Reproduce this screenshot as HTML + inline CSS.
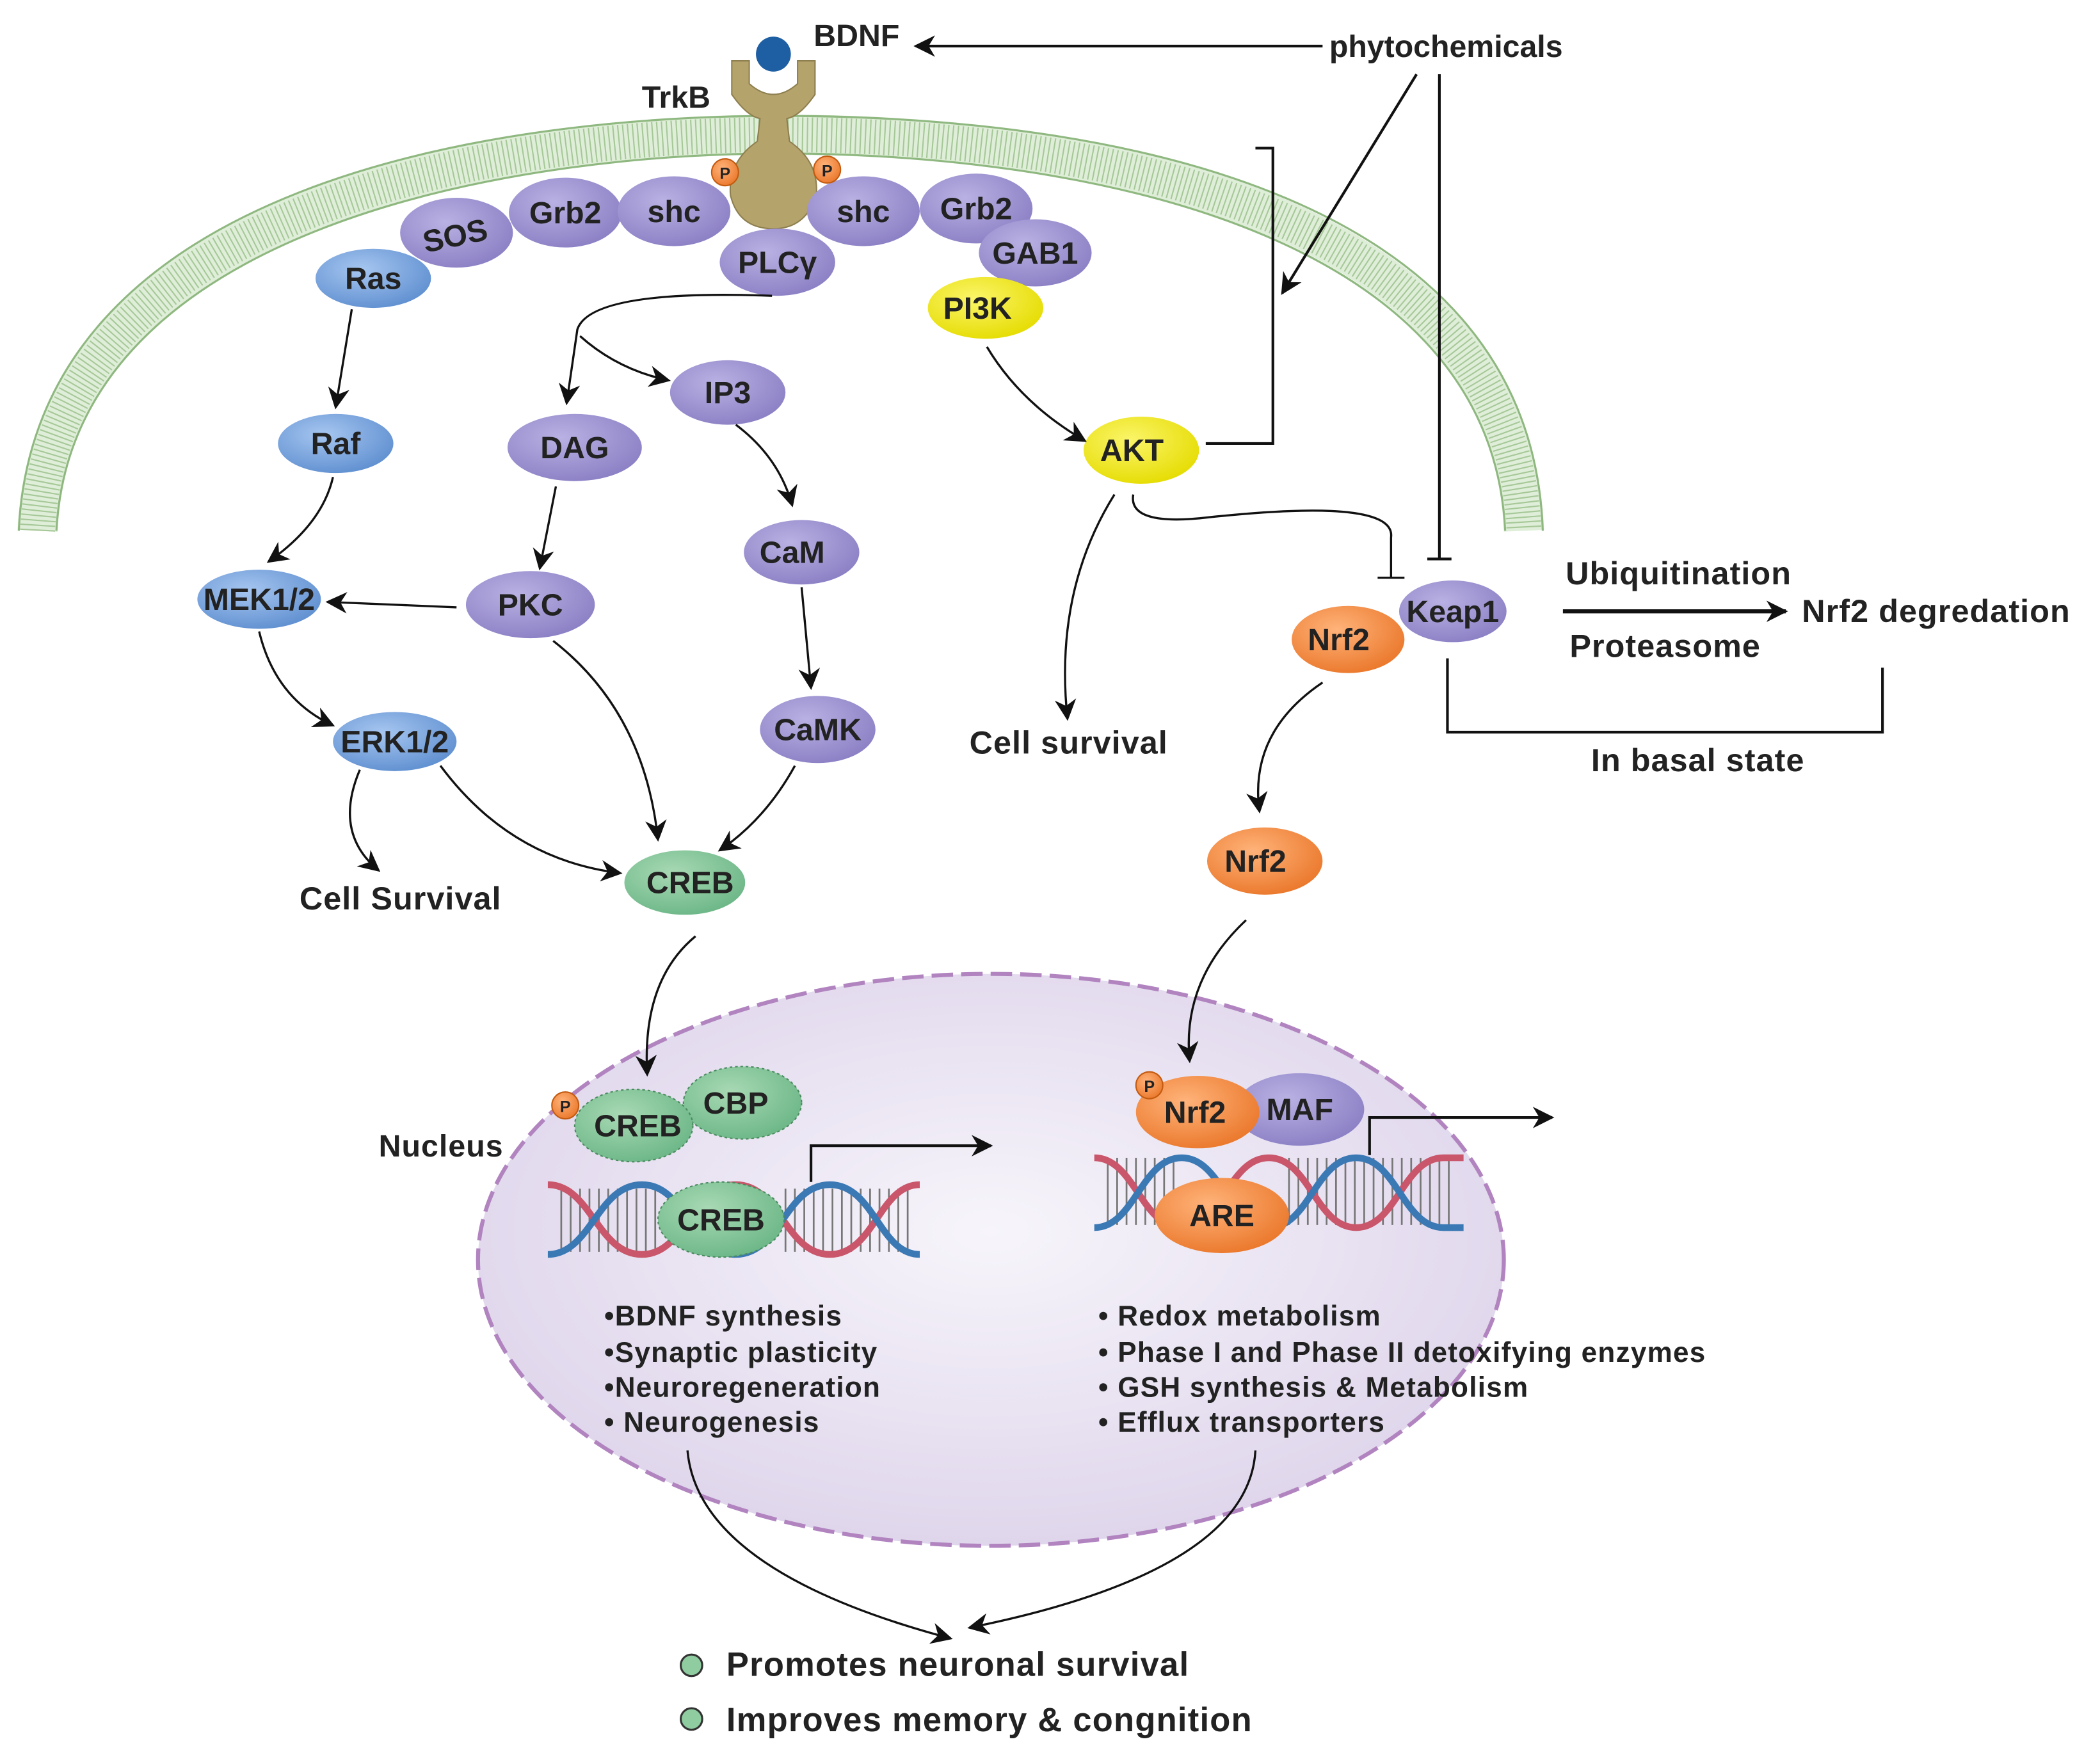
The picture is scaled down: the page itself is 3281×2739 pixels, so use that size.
<!DOCTYPE html>
<html><head><meta charset="utf-8"><style>
html,body{margin:0;padding:0;background:#fff}
svg{display:block}
text{font-family:"Liberation Sans",sans-serif;font-weight:bold;fill:#222}
</style></head><body>
<svg width="3281" height="2739" viewBox="0 0 1564 1305" xmlns="http://www.w3.org/2000/svg">
<defs>
<marker id="A" viewBox="0 0 10 10" refX="9" refY="5" markerWidth="16" markerHeight="16" orient="auto" markerUnits="userSpaceOnUse"><path d="M0,0 L10,5 L0,10 L3,5z" fill="#111"/></marker>
<radialGradient id="pu" cx="40%" cy="35%" r="70%"><stop offset="0" stop-color="#b9b1e3"/><stop offset="1" stop-color="#8b7fc4"/></radialGradient>
<radialGradient id="bl" cx="40%" cy="35%" r="70%"><stop offset="0" stop-color="#a6c6f0"/><stop offset="1" stop-color="#5f8fd0"/></radialGradient>
<radialGradient id="ye" cx="40%" cy="35%" r="70%"><stop offset="0" stop-color="#fbf56a"/><stop offset="1" stop-color="#e5dc00"/></radialGradient>
<radialGradient id="gr" cx="40%" cy="35%" r="70%"><stop offset="0" stop-color="#a8d9b4"/><stop offset="1" stop-color="#6bb686"/></radialGradient>
<radialGradient id="or" cx="40%" cy="35%" r="70%"><stop offset="0" stop-color="#ffb37a"/><stop offset="1" stop-color="#ea772a"/></radialGradient>
<radialGradient id="nu" cx="50%" cy="45%" r="60%"><stop offset="0" stop-color="#f7f5fb"/><stop offset="1" stop-color="#ddd3ea"/></radialGradient>
</defs>

<!-- membrane -->
<path d="M28,395 C40,150 380,100 580,100 C800,100 1125,150 1135,395" fill="none" stroke="#dfeed8" stroke-width="30"/>
<path d="M28,395 C40,150 380,100 580,100 C800,100 1125,150 1135,395" fill="none" stroke="#a6c898" stroke-width="26" stroke-dasharray="1 2.6"/>
<path d="M14,395 C26,135 370,86 580,86 C810,86 1140,135 1149,395" fill="none" stroke="#8fb880" stroke-width="1.5"/>
<path d="M42,395 C54,165 390,114 580,114 C790,114 1110,165 1121,395" fill="none" stroke="#8fb880" stroke-width="1.5"/>

<!-- nucleus -->
<ellipse cx="738" cy="938" rx="382" ry="213" fill="url(#nu)" stroke="#b184c0" stroke-width="3" stroke-dasharray="16 6"/>

<!-- receptor -->
<path d="M545,45 L558,45 L558,62 Q576,78 594,62 L594,45 L607,45 L607,70 Q596,86 586,88 L588,105 Q610,120 608,145 Q600,170 576,170 Q550,170 544,145 Q542,120 564,105 L566,88 Q556,86 545,70z" fill="#b5a36c" stroke="#8e7f4f" stroke-width="1"/>
<circle cx="576" cy="40" r="13" fill="#1e5ea3"/>
<text x="606" y="34" font-size="23">BDNF</text>
<text x="478" y="80" font-size="23">TrkB</text>

<!-- nodes -->
<g font-size="23" text-anchor="middle">
<ellipse cx="340" cy="173" rx="42" ry="26" fill="url(#pu)"/><text x="340" y="183" transform="rotate(-12 340 180)">SOS</text>
<ellipse cx="421" cy="158" rx="42" ry="26" fill="url(#pu)"/><text x="421" y="166">Grb2</text>
<ellipse cx="502" cy="157" rx="42" ry="26" fill="url(#pu)"/><text x="502" y="165">shc</text>
<ellipse cx="643" cy="157" rx="42" ry="26" fill="url(#pu)"/><text x="643" y="165">shc</text>
<ellipse cx="727" cy="155" rx="42" ry="26" fill="url(#pu)"/><text x="727" y="163">Grb2</text>
<ellipse cx="771" cy="188" rx="42" ry="25" fill="url(#pu)"/><text x="771" y="196">GAB1</text>
<ellipse cx="579" cy="195" rx="43" ry="25" fill="url(#pu)"/><text x="579" y="203">PLCγ</text>
<ellipse cx="278" cy="207" rx="43" ry="22" fill="url(#bl)"/><text x="278" y="215">Ras</text>
<ellipse cx="734" cy="229" rx="43" ry="23" fill="url(#ye)"/><text x="728" y="237">PI3K</text>
<ellipse cx="250" cy="330" rx="43" ry="22" fill="url(#bl)"/><text x="250" y="338">Raf</text>
<ellipse cx="428" cy="333" rx="50" ry="25" fill="url(#pu)"/><text x="428" y="341">DAG</text>
<ellipse cx="542" cy="292" rx="43" ry="24" fill="url(#pu)"/><text x="542" y="300">IP3</text>
<ellipse cx="597" cy="411" rx="43" ry="24" fill="url(#pu)"/><text x="590" y="419">CaM</text>
<ellipse cx="395" cy="450" rx="48" ry="25" fill="url(#pu)"/><text x="395" y="458">PKC</text>
<ellipse cx="193" cy="446" rx="46" ry="22" fill="url(#bl)"/><text x="193" y="454">MEK1/2</text>
<ellipse cx="294" cy="552" rx="46" ry="22" fill="url(#bl)"/><text x="294" y="560">ERK1/2</text>
<ellipse cx="609" cy="543" rx="43" ry="25" fill="url(#pu)"/><text x="609" y="551">CaMK</text>
<ellipse cx="510" cy="657" rx="45" ry="24" fill="url(#gr)"/><text x="514" y="665">CREB</text>
<ellipse cx="850" cy="335" rx="43" ry="25" fill="url(#ye)"/><text x="843" y="343">AKT</text>
<ellipse cx="1082" cy="455" rx="40" ry="23" fill="url(#pu)"/><text x="1082" y="463">Keap1</text>
<ellipse cx="1004" cy="476" rx="42" ry="25" fill="url(#or)"/><text x="997" y="484">Nrf2</text>
<ellipse cx="942" cy="641" rx="43" ry="25" fill="url(#or)"/><text x="935" y="649">Nrf2</text>
</g>
<g font-size="12" text-anchor="middle">
<circle cx="540" cy="128" r="10" fill="url(#or)" stroke="#c25a10"/><text x="540" y="133">P</text>
<circle cx="616" cy="126" r="10" fill="url(#or)" stroke="#c25a10"/><text x="616" y="131">P</text>
</g>

<!-- phytochemicals -->
<text x="990" y="42" font-size="23">phytochemicals</text>
<line x1="985" y1="34" x2="682" y2="34" stroke="#111" stroke-width="2" marker-end="url(#A)"/>
<line x1="1055" y1="55" x2="955" y2="218" stroke="#111" stroke-width="2" marker-end="url(#A)"/>
<line x1="1072" y1="55" x2="1072" y2="416" stroke="#111" stroke-width="2"/>
<line x1="1063" y1="416" x2="1081" y2="416" stroke="#111" stroke-width="2"/>
<polyline points="898,330 948,330 948,110 935,110" fill="none" stroke="#111" stroke-width="2"/>

<!-- arrows -->
<g fill="none" stroke="#111" stroke-width="1.6">
<path d="M262,230 L250,303" marker-end="url(#A)"/>
<path d="M248,355 Q240,390 200,418" marker-end="url(#A)"/>
<path d="M340,452 L244,448" marker-end="url(#A)"/>
<path d="M193,470 Q205,520 248,540" marker-end="url(#A)"/>
<path d="M575,220 Q440,215 430,245 L422,300" marker-end="url(#A)"/>
<path d="M432,250 Q460,275 498,283" marker-end="url(#A)"/>
<path d="M414,362 L402,423" marker-end="url(#A)"/>
<path d="M548,316 Q580,340 590,376" marker-end="url(#A)"/>
<path d="M597,437 L604,512" marker-end="url(#A)"/>
<path d="M412,477 Q480,530 490,625" marker-end="url(#A)"/>
<path d="M592,570 Q570,610 536,633" marker-end="url(#A)"/>
<path d="M328,570 Q380,640 462,650" marker-end="url(#A)"/>
<path d="M268,573 Q248,620 282,648" marker-end="url(#A)"/>
<path d="M735,258 Q760,300 808,328" marker-end="url(#A)"/>
<path d="M830,368 Q785,440 795,535" marker-end="url(#A)"/>
<path d="M844,368 Q840,392 900,385 Q1040,370 1036,400 L1036,430"/>
<line x1="1026" y1="430" x2="1046" y2="430"/>
<path d="M985,508 Q930,545 938,604" marker-end="url(#A)"/>
<path d="M928,685 Q880,730 886,790" marker-end="url(#A)"/>
<path d="M518,697 Q478,730 482,800" marker-end="url(#A)"/>
<polyline points="1078,490 1078,545 1402,545 1402,497" stroke-width="2"/>
<path d="M512,1080 Q520,1170 708,1220" marker-end="url(#A)"/>
<path d="M935,1080 Q930,1170 722,1212" marker-end="url(#A)"/>
<polyline points="604,880 604,853 738,853" stroke-width="2" marker-end="url(#A)"/>
<polyline points="1020,860 1020,832 1156,832" stroke-width="2" marker-end="url(#A)"/>
</g>
<line x1="1164" y1="455" x2="1330" y2="455" stroke="#111" stroke-width="3" marker-end="url(#A)"/>

<!-- labels -->
<g font-size="24" letter-spacing="0.5">
<text x="1166" y="435">Ubiquitination</text>
<text x="1342" y="463">Nrf2 degredation</text>
<text x="1169" y="489">Proteasome</text>
<text x="1185" y="574">In basal state</text>
<text x="722" y="561">Cell survival</text>
<text x="223" y="677">Cell Survival</text>
<text x="282" y="861" font-size="23">Nucleus</text>
</g>

<!-- DNA left -->
<g>
<g stroke="#777" stroke-width="1.3">
<path d="M418,885V932M425,885V932M432,885V932M439,885V932M446,885V932M453,885V932M460,885V932M467,885V932M474,885V932M481,885V932M488,885V932M560,885V932M585,885V932M592,885V932M599,885V932M606,885V932M613,885V932M620,885V932M627,885V932M634,885V932M641,885V932M648,885V932M655,885V932M662,885V932M669,885V932M676,885V932"/>
</g>
<path d="M408,882 C440,882 445,934 478,934 C511,934 515,882 548,882 C581,882 585,934 618,934 C651,934 655,882 685,882" fill="none" stroke="#c9566a" stroke-width="5"/>
<path d="M408,934 C440,934 445,882 478,882 C511,882 515,934 548,934 C581,934 585,882 618,882 C651,882 655,934 685,934" fill="none" stroke="#3b79b5" stroke-width="5"/>
</g>
<!-- DNA right -->
<g>
<g stroke="#777" stroke-width="1.3">
<path d="M825,862V912M832,862V912M839,862V912M846,862V912M853,862V912M860,862V912M867,862V912M874,862V912M960,862V912M967,862V912M974,862V912M981,862V912M988,862V912M995,862V912M1002,862V912M1009,862V912M1016,862V912M1023,862V912M1030,862V912M1037,862V912M1044,862V912M1051,862V912M1058,862V912M1065,862V912M1072,862V912M1079,862V912"/>
</g>
<path d="M815,862 C845,862 850,914 880,914 C910,914 915,862 945,862 C975,862 980,914 1010,914 C1040,914 1045,862 1075,862 L1090,862" fill="none" stroke="#c9566a" stroke-width="5"/>
<path d="M815,914 C845,914 850,862 880,862 C910,862 915,914 945,914 C975,914 980,862 1010,862 C1040,862 1045,914 1075,914 L1090,914" fill="none" stroke="#3b79b5" stroke-width="5"/>
</g>

<!-- nuclear proteins -->
<g font-size="23" text-anchor="middle">
<ellipse cx="553" cy="821" rx="44" ry="27" fill="url(#gr)" stroke="#4a8a5e" stroke-dasharray="2 2"/><text x="548" y="829">CBP</text>
<ellipse cx="472" cy="838" rx="44" ry="27" fill="url(#gr)" stroke="#4a8a5e" stroke-dasharray="2 2"/><text x="475" y="846">CREB</text>
<ellipse cx="537" cy="908" rx="47" ry="28" fill="url(#gr)" stroke="#4a8a5e" stroke-dasharray="2 2"/><text x="537" y="916">CREB</text>
<ellipse cx="968" cy="826" rx="48" ry="27" fill="url(#pu)"/><text x="968" y="834">MAF</text>
<ellipse cx="892" cy="828" rx="46" ry="27" fill="url(#or)"/><text x="890" y="836">Nrf2</text>
<ellipse cx="910" cy="905" rx="50" ry="28" fill="url(#or)"/><text x="910" y="913">ARE</text>
</g>
<g font-size="12" text-anchor="middle">
<circle cx="421" cy="823" r="10" fill="url(#or)" stroke="#c25a10"/><text x="421" y="828">P</text>
<circle cx="856" cy="808" r="10" fill="url(#or)" stroke="#c25a10"/><text x="856" y="813">P</text>
</g>

<!-- lists -->
<g font-size="21" letter-spacing="0.6">
<text x="450" y="987">•BDNF synthesis</text>
<text x="450" y="1014">•Synaptic plasticity</text>
<text x="450" y="1040">•Neuroregeneration</text>
<text x="450" y="1066">• Neurogenesis</text>
<text x="818" y="987">• Redox metabolism</text>
<text x="818" y="1014">• Phase I and Phase II detoxifying enzymes</text>
<text x="818" y="1040">• GSH synthesis &amp; Metabolism</text>
<text x="818" y="1066">• Efflux transporters</text>
</g>

<circle cx="515" cy="1240" r="8" fill="#8fcca0" stroke="#333" stroke-width="1.5"/>
<circle cx="515" cy="1280" r="8" fill="#8fcca0" stroke="#333" stroke-width="1.5"/>
<text x="541" y="1248" font-size="25" letter-spacing="0.6">Promotes neuronal survival</text>
<text x="541" y="1289" font-size="25" letter-spacing="0.6">Improves memory &amp; congnition</text>
</svg>
</body></html>
